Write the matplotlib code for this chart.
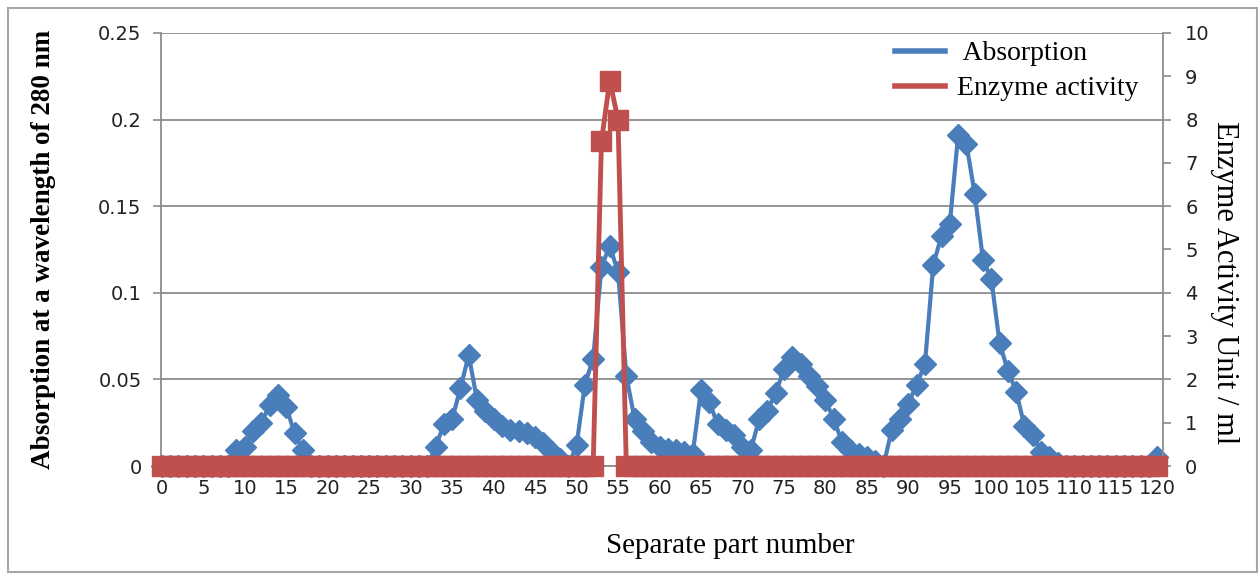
import matplotlib
matplotlib.use("Agg")
import matplotlib.pyplot as plt
from matplotlib.lines import Line2D
from matplotlib.patches import Rectangle
import numpy as np

# ---- data ----
fractions = list(range(0, 121))

absorption = [0.0] * 121
abs_points = {
    9: 0.009, 10: 0.011, 11: 0.020, 12: 0.025, 13: 0.035, 14: 0.041, 15: 0.034,
    16: 0.019, 17: 0.009,
    33: 0.011, 34: 0.024, 35: 0.027, 36: 0.045, 37: 0.064, 38: 0.038, 39: 0.032,
    40: 0.027, 41: 0.023, 42: 0.021, 43: 0.020, 44: 0.019, 45: 0.017, 46: 0.013,
    47: 0.008, 48: 0.004,
    50: 0.012, 51: 0.047, 52: 0.062, 53: 0.115, 54: 0.127, 55: 0.112, 56: 0.052,
    57: 0.027, 58: 0.020, 59: 0.014, 60: 0.011, 61: 0.010, 62: 0.009, 63: 0.008,
    64: 0.007, 65: 0.044, 66: 0.037, 67: 0.024, 68: 0.021, 69: 0.018, 70: 0.011,
    71: 0.009, 72: 0.027, 73: 0.032, 74: 0.042, 75: 0.056, 76: 0.063, 77: 0.059,
    78: 0.052, 79: 0.046, 80: 0.038, 81: 0.027, 82: 0.014, 83: 0.009, 84: 0.007,
    85: 0.005, 86: 0.003,
    88: 0.021, 89: 0.027, 90: 0.036, 91: 0.047, 92: 0.059, 93: 0.116, 94: 0.133,
    95: 0.140, 96: 0.191, 97: 0.186, 98: 0.157, 99: 0.119, 100: 0.108, 101: 0.071,
    102: 0.055, 103: 0.043, 104: 0.023, 105: 0.018, 106: 0.008, 107: 0.005,
    108: 0.002,
    120: 0.005,
}
for k, v in abs_points.items():
    absorption[k] = v

enzyme = [0.0] * 121
enzyme_points = {53: 7.5, 54: 8.9, 55: 8.0}
for k, v in enzyme_points.items():
    enzyme[k] = v

x_ticks = list(range(0, 121, 5))
y_left_ticks = [0, 0.05, 0.1, 0.15, 0.2, 0.25]
y_left_labels = ["0", "0.05", "0.1", "0.15", "0.2", "0.25"]
y_right_ticks = list(range(0, 11))

# ---- figure ----
W, H = 1260, 574
fig = plt.figure(figsize=(W / 100, H / 100), dpi=100)
fig.patch.set_facecolor("white")
fig.patches.append(Rectangle((8 / W, 2 / H), 1249 / W, 564 / H, transform=fig.transFigure,
                             fill=False, edgecolor="#a6a6a6", lw=1.5))

ax = fig.add_axes([161 / W, 1 - 466 / H, 1002 / W, 433 / H])
ax2 = ax.twinx()

blue = "#4a7ebb"
red = "#c0504d"
grid_c = "#8c8c8c"

ax.plot(fractions, absorption, color=blue, lw=3.0, marker="D", ms=11.5,
        mfc=blue, mec=blue, zorder=3, clip_on=False)
ax2.plot(fractions, enzyme, color=red, lw=3.5, marker="s", ms=14,
         mfc=red, mec=red, zorder=3, clip_on=False)

ax.set_xlim(-0.1, 120.7)
ax.set_ylim(0, 0.25)
ax2.set_ylim(0, 10)

ax.set_yticks(y_left_ticks)
ax.set_yticklabels(y_left_labels)
ax2.set_yticks(y_right_ticks)
ax.set_xticks(x_ticks)

for a in (ax, ax2):
    for s in a.spines.values():
        s.set_visible(False)
ax.spines["left"].set_visible(True)
ax.spines["left"].set_color(grid_c)
ax.spines["left"].set_linewidth(1.3)
ax2.spines["right"].set_visible(True)
ax2.spines["right"].set_color(grid_c)
ax2.spines["right"].set_linewidth(1.3)
ax.spines["bottom"].set_visible(True)
ax.spines["bottom"].set_color(grid_c)
ax.spines["bottom"].set_linewidth(1.3)

ax.yaxis.grid(True, color=grid_c, lw=1.3)
ax.set_axisbelow(True)

ax.tick_params(axis="y", direction="out", length=6, width=1.2, color=grid_c,
               labelsize=14, pad=8)
ax.tick_params(axis="x", length=0, labelsize=14, pad=9)
ax2.tick_params(axis="y", direction="out", length=6, width=1.2, color=grid_c,
                labelsize=14, pad=10)
for lab in ax.get_xticklabels() + ax.get_yticklabels() + ax2.get_yticklabels():
    lab.set_family("DejaVu Sans")
    lab.set_color("#222222")

serif = "Liberation Serif"
ax.set_ylabel("Absorption at a wavelength of 280 nm", family=serif, weight="bold",
              fontsize=19.5)
ax.yaxis.set_label_coords(-0.105, 0.5)
ax2.set_ylabel("Enzyme Activity Unit / ml", family=serif, fontsize=22, rotation=270,
               va="center")
ax2.yaxis.set_label_coords(1.061, 0.423)
ax.set_xlabel("Separate part number", family=serif, fontsize=21)
ax.xaxis.set_label_coords(0.568, -0.155)

handles = [Line2D([], [], color=blue, lw=4), Line2D([], [], color=red, lw=4)]
leg = ax2.legend(handles, [" Absorption", "Enzyme activity"], loc="upper left",
                 bbox_to_anchor=(0.733, 0.982), frameon=False,
                 prop=dict(family=serif, size=20), handlelength=1.8,
                 handletextpad=0.4, labelspacing=0.35, borderpad=0, borderaxespad=0)

fig.savefig("out.png", dpi=100, facecolor="white")
